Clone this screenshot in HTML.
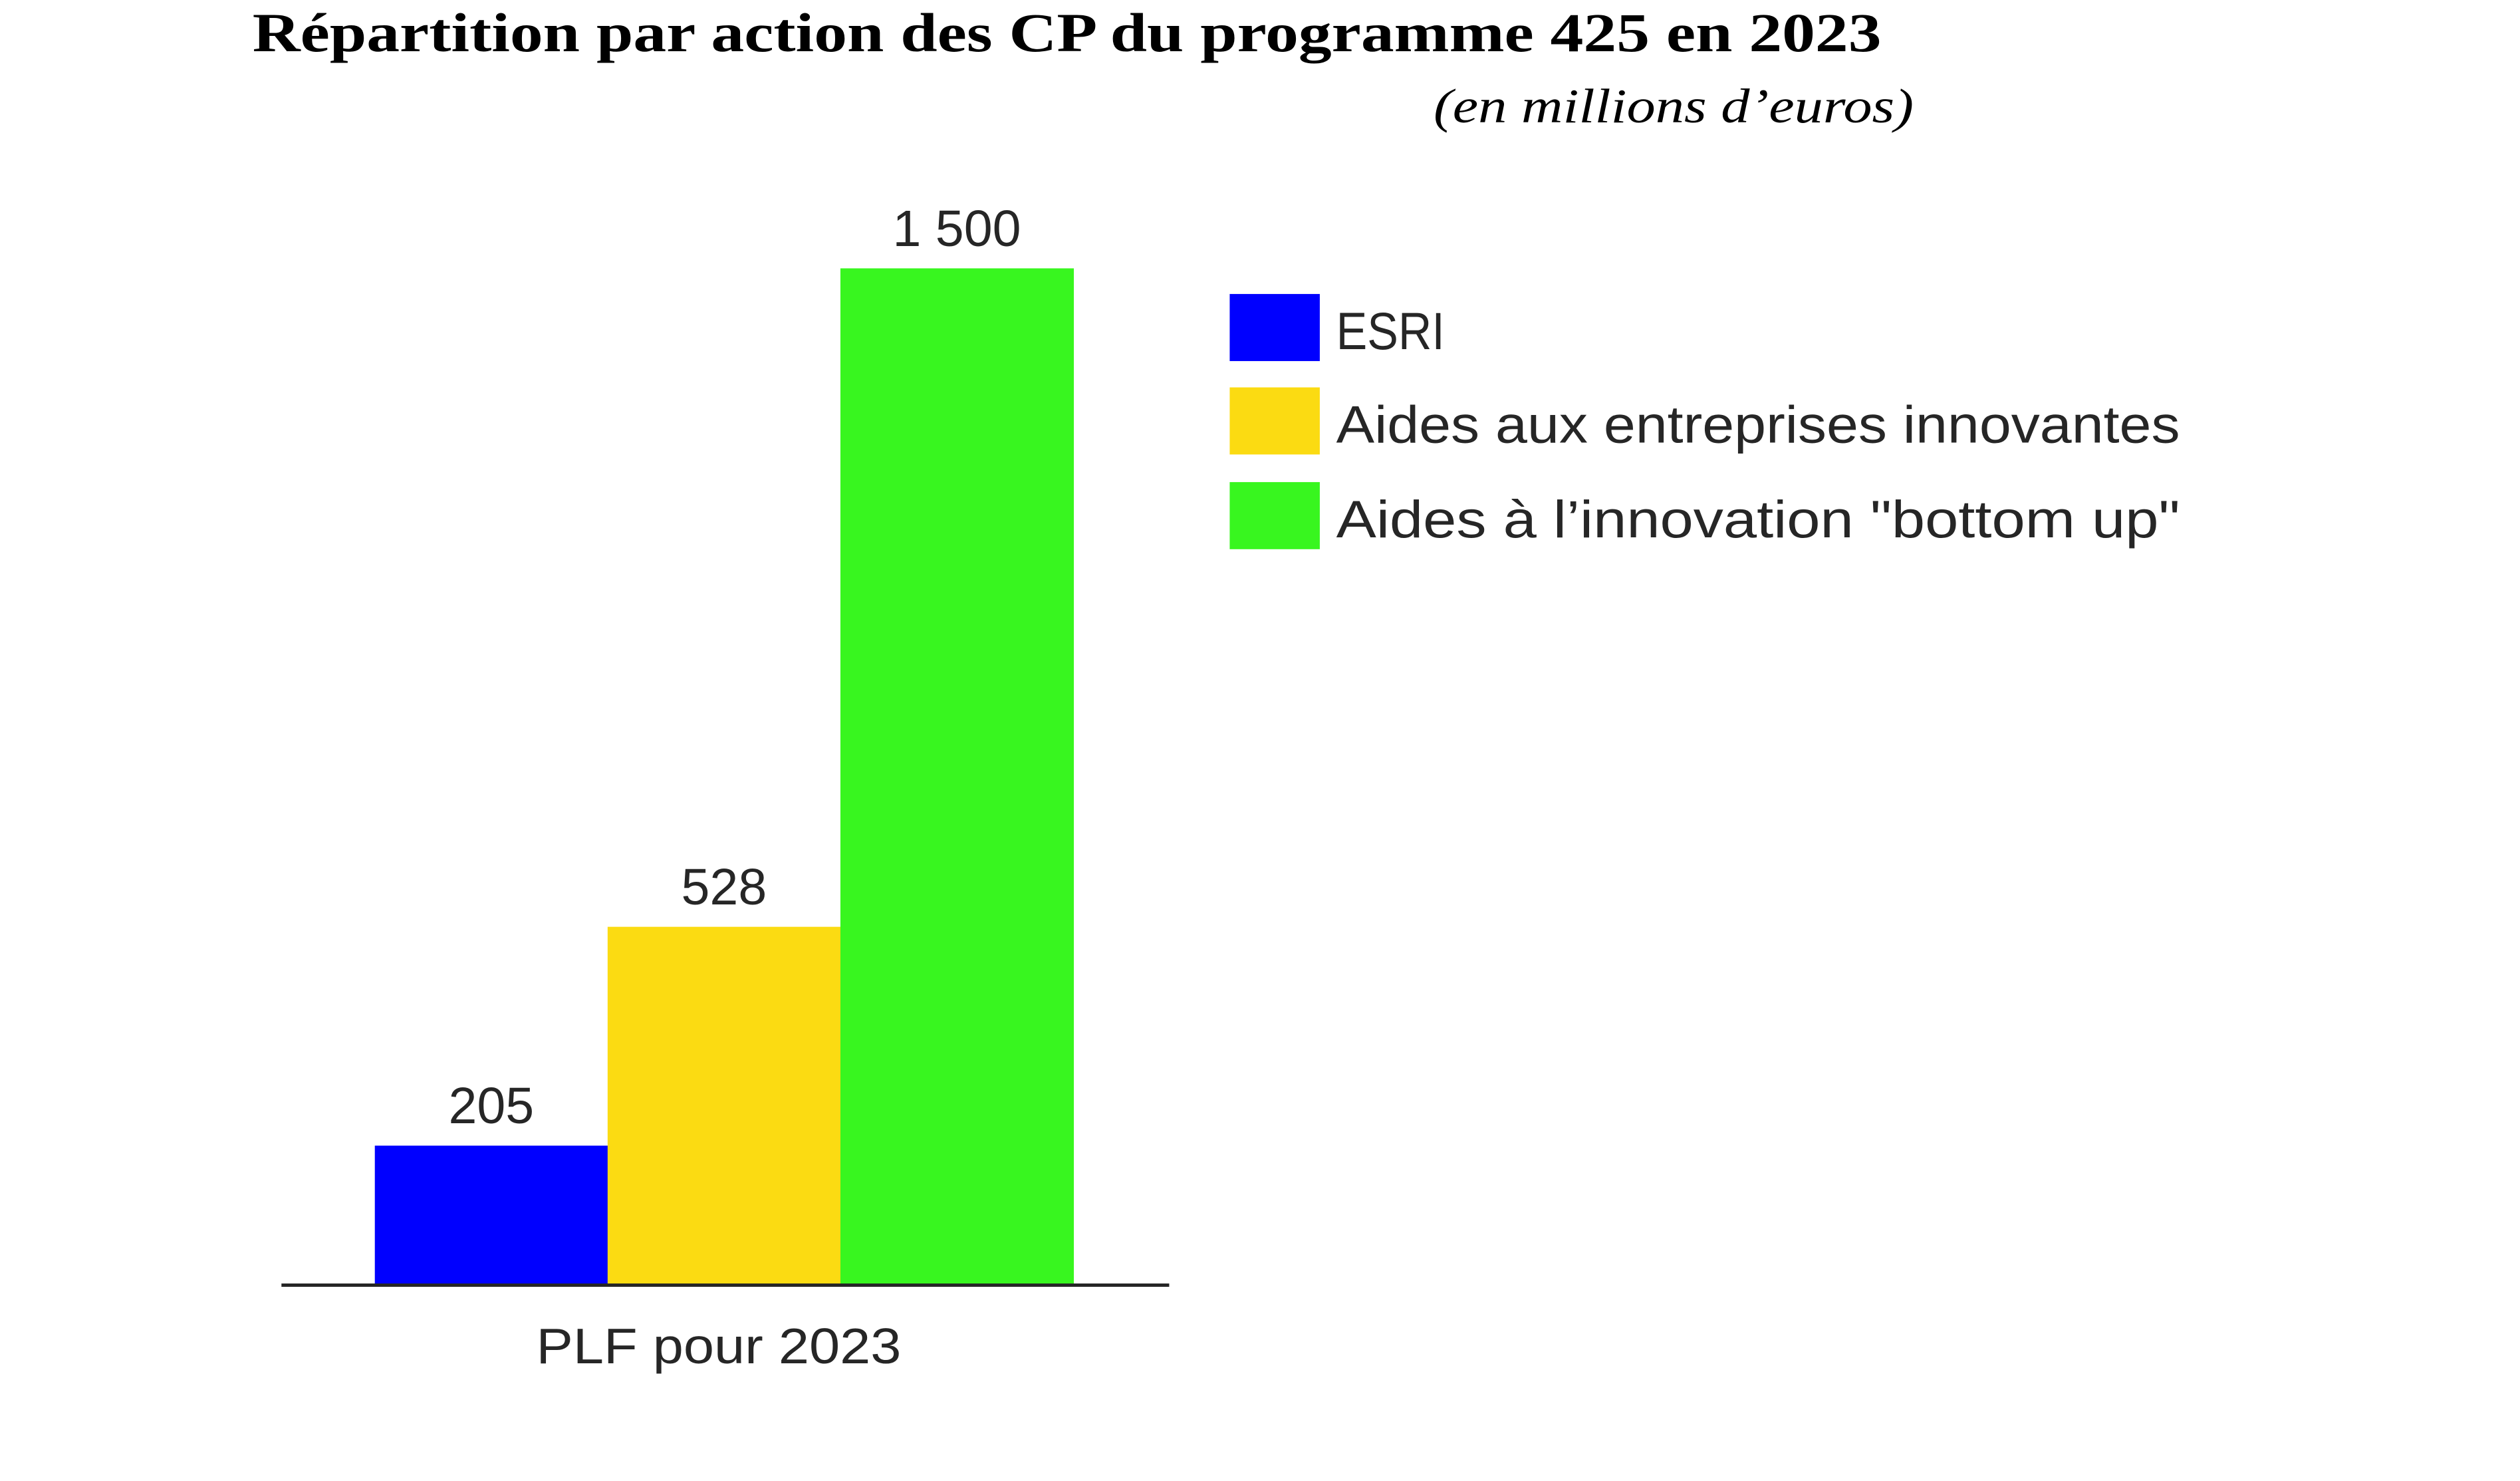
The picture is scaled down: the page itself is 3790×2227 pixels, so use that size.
<!DOCTYPE html>
<html><head><meta charset="utf-8"><style>
html,body{margin:0;padding:0;background:#fff;width:3790px;height:2227px;overflow:hidden}
</style></head><body>
<svg id="chart" width="3790" height="2227" viewBox="0 0 3790 2227" xmlns="http://www.w3.org/2000/svg">
<g transform="scale(0.989)">
<text x="384" y="78" font-family="Liberation Serif, serif" font-weight="bold" font-size="84" fill="#000" textLength="2477" lengthAdjust="spacingAndGlyphs">Répartition par action des CP du programme 425 en 2023</text>
<text x="2910" y="186" text-anchor="end" font-family="Liberation Serif, serif" font-style="italic" font-size="74" fill="#000" textLength="730" lengthAdjust="spacingAndGlyphs">(en millions d’euros)</text>
<g id="bars"></g>
<g id="legend"></g>
<line x1="428" y1="1954" x2="1778" y2="1954" stroke="#262626" stroke-width="5"/>
<text x="1093" y="2073" text-anchor="middle" font-family="Liberation Sans, sans-serif" font-size="76" fill="#262626" textLength="555" lengthAdjust="spacingAndGlyphs">PLF pour 2023</text>
</g>
</svg>
<script>
const categories = ["PLF pour 2023"];
const seriesNames = ["ESRI", "Aides aux entreprises innovantes", "Aides à l’innovation  \"bottom up\""];
const seriesValues = [205, 528, 1500];
const valueLabels = ["205", "528", "1 500"];
const seriesColors = ["#0000ff", "#fbdb12", "#38f61f"];

const NS = "http://www.w3.org/2000/svg";
const baseY = 1953, pxPerUnit = 1.03;
const groupLeft = 570, barW = 354;
function yScale(v){ return baseY - v * pxPerUnit; }
function xScale(i){ return groupLeft + i * barW; }

const bars = document.getElementById('bars');
seriesValues.forEach((v, i) => {
  const r = document.createElementNS(NS, 'rect');
  r.setAttribute('x', xScale(i));
  r.setAttribute('y', yScale(v));
  r.setAttribute('width', barW + 1);
  r.setAttribute('height', baseY - yScale(v));
  r.setAttribute('fill', seriesColors[i]);
  
  
  bars.appendChild(r);
  const t = document.createElementNS(NS, 'text');
  t.setAttribute('x', xScale(i) + barW / 2);
  t.setAttribute('y', yScale(v) - 34);
  t.setAttribute('text-anchor', 'middle');
  t.setAttribute('font-family', 'Liberation Sans, sans-serif');
  t.setAttribute('font-size', '78');
  t.setAttribute('fill', '#262626');
  t.textContent = valueLabels[i];
  
  
  bars.appendChild(t);
});

const legend = document.getElementById('legend');
const legendTop = [447, 589, 733];
const legendWidths = [165, 1283, 1283];
seriesNames.forEach((n, i) => {
  const g = document.createElementNS(NS, 'g');
  
  
  const r = document.createElementNS(NS, 'rect');
  r.setAttribute('x', 1870);
  r.setAttribute('y', legendTop[i]);
  r.setAttribute('width', 137);
  r.setAttribute('height', 102);
  r.setAttribute('fill', seriesColors[i]);
  
  
  g.appendChild(r);
  const t = document.createElementNS(NS, 'text');
  t.setAttribute('x', 2032);
  t.setAttribute('y', legendTop[i] + 84);
  t.setAttribute('font-family', 'Liberation Sans, sans-serif');
  t.setAttribute('font-size', '80');
  t.setAttribute('fill', '#262626');
  t.setAttribute('textLength', legendWidths[i]);
  t.setAttribute('lengthAdjust', 'spacingAndGlyphs');
  t.setAttribute('xml:space', 'preserve');
  t.textContent = n;
  
  
  g.appendChild(t);
  legend.appendChild(g);
});
</script>
</body></html>
